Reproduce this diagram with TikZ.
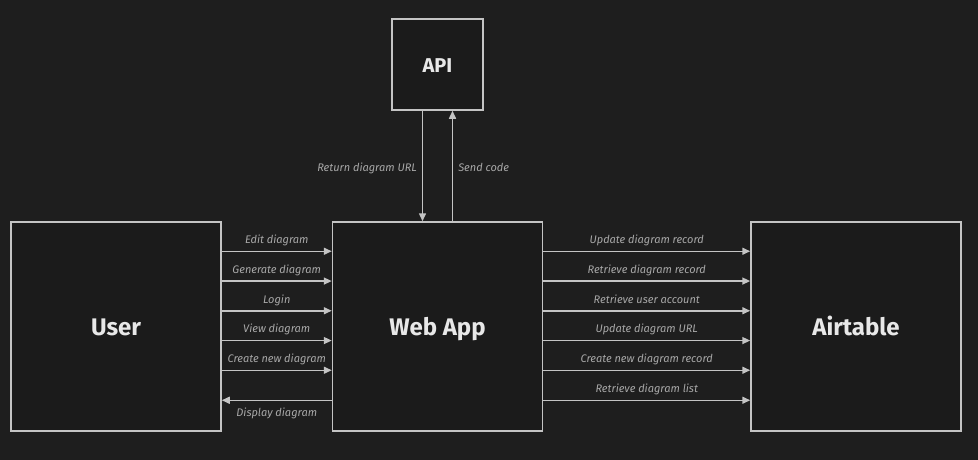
\documentclass[tikz,border=0pt]{standalone}
\usepackage{fontspec}
\setmainfont{Fira Sans}
\usepackage{xcolor}
\usepackage{tikz}
\usetikzlibrary{arrows.meta,positioning}

\definecolor{bgdark}{HTML}{1E1E1E}
\definecolor{boxdark}{HTML}{1B1B1B}
\definecolor{edgegray}{HTML}{C4C4C4}
\definecolor{labelgray}{HTML}{A8A8A8}
\definecolor{titlewhite}{HTML}{E8E8E8}

\begin{document}
\begin{tikzpicture}[x=1pt,y=-1pt]
        \tikzstyle{block} = [rectangle, draw=edgegray, line width=1.5pt, fill=boxdark, minimum width=210pt, minimum height=209pt, inner sep=0pt, text height=17pt, text depth=0pt, text=titlewhite, font=\bfseries\fontsize{24}{28}\selectfont]
        \tikzstyle{line} = [draw=edgegray, line width=1.5pt, -{Triangle[length=8pt, width=7pt]}]
        \tikzstyle{lbl} = [inner sep=0pt, text height=8pt, text depth=2.5pt, text=labelgray, font=\itshape\fontsize{11}{13}\selectfont]

        \fill [bgdark] (0,0) rectangle (978,460);

        \node [block] (user) at (116,326.5) {User};
        \node [block, right of=user, node distance=321.5pt] (webapp) {Web App};
        \node [block, right of=webapp, node distance=418.5pt] (airtable) {Airtable};
        \node [block, above of=webapp, node distance=262pt, minimum width=91pt, minimum height=91pt, text height=15.6pt, font=\bfseries\fontsize{20}{24}\selectfont] (api) {API};

        \path [line] ([xshift=-15pt]api.south) -- node[lbl, left=5pt, yshift=-3pt] {Return diagram URL} ([xshift=-15pt]webapp.north);
        \path [line] ([xshift=15pt]webapp.north) -- node[lbl, right=5pt, yshift=-3pt] {Send code} ([xshift=15pt]api.south);

        \path [line] ([yshift=-30pt]user.north east) -- node[lbl, above=4.5pt] {Edit diagram} ([yshift=-30pt]webapp.north west);
        \path [line] ([yshift=-59.8pt]user.north east) -- node[lbl, above=4.5pt] {Generate diagram} ([yshift=-59.8pt]webapp.north west);
        \path [line] ([yshift=-89.5pt]user.north east) -- node[lbl, above=4.5pt] {Login} ([yshift=-89.5pt]webapp.north west);
        \path [line] ([yshift=-119.3pt]user.north east) -- node[lbl, above=4.5pt] {View diagram} ([yshift=-119.3pt]webapp.north west);
        \path [line] ([yshift=-149pt]user.north east) -- node[lbl, above=4.5pt] {Create new diagram} ([yshift=-149pt]webapp.north west);
        \path [line] ([yshift=-179pt]webapp.north west) -- node[lbl, below=7pt] {Display diagram} ([yshift=-179pt]user.north east);

        \path [line] ([yshift=-30pt]webapp.north east) -- node[lbl, above=4.5pt] {Update diagram record} ([yshift=-30pt]airtable.north west);
        \path [line] ([yshift=-59.8pt]webapp.north east) -- node[lbl, above=4.5pt] {Retrieve diagram record} ([yshift=-59.8pt]airtable.north west);
        \path [line] ([yshift=-89.5pt]webapp.north east) -- node[lbl, above=4.5pt] {Retrieve user account} ([yshift=-89.5pt]airtable.north west);
        \path [line] ([yshift=-119.3pt]webapp.north east) -- node[lbl, above=4.5pt] {Update diagram URL} ([yshift=-119.3pt]airtable.north west);
        \path [line] ([yshift=-149pt]webapp.north east) -- node[lbl, above=4.5pt] {Create new diagram record} ([yshift=-149pt]airtable.north west);
        \path [line] ([yshift=-179pt]webapp.north east) -- node[lbl, above=4.5pt] {Retrieve diagram list} ([yshift=-179pt]airtable.north west);
    \end{tikzpicture}
\end{document}
